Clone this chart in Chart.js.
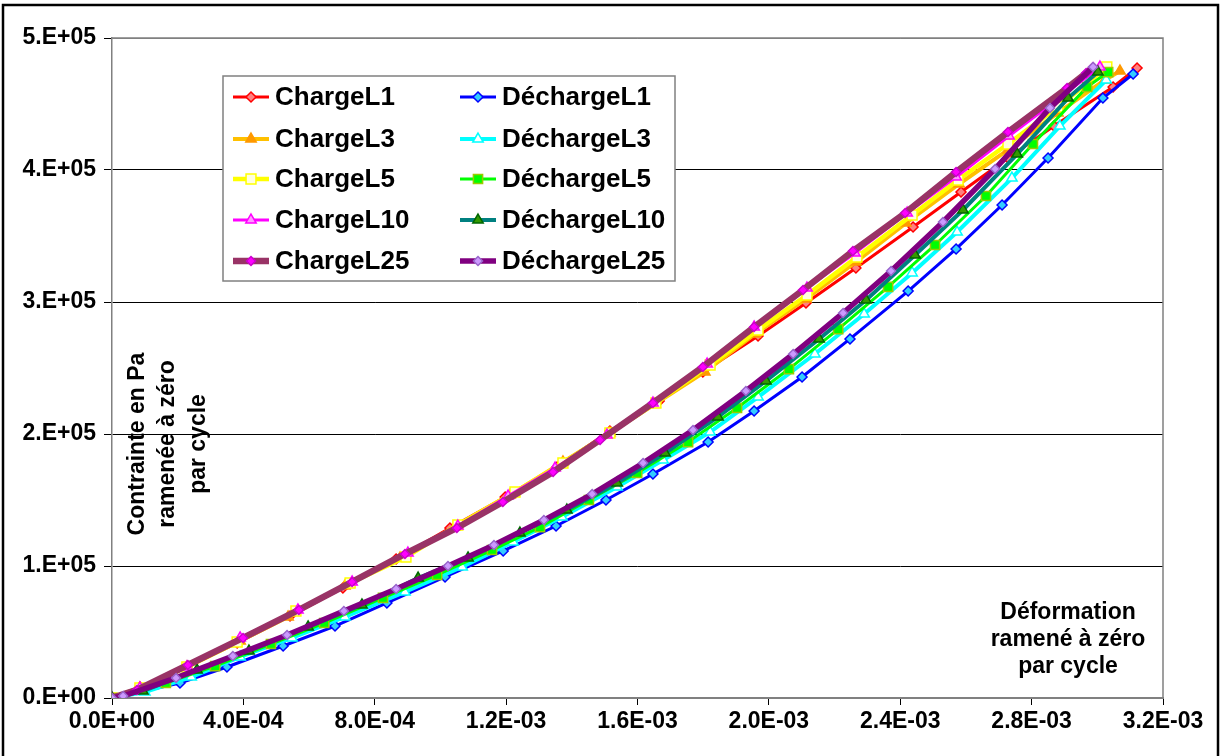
<!DOCTYPE html>
<html><head><meta charset="utf-8">
<script src="https://cdn.jsdelivr.net/npm/chart.js@4.4.1/dist/chart.umd.min.js"></script>
<style>html,body{margin:0;padding:0;background:#fff;overflow:hidden}#wrap{width:1221px;height:756px}</style>
</head><body><div id="wrap"><canvas id="c" width="1221" height="756"></canvas></div>
<script>
// Strain values in units of 1e-4, stress values in kPa (1e3 Pa)
const xTickValues = [0, 4e-4, 8e-4, 1.2e-3, 1.6e-3, 2.0e-3, 2.4e-3, 2.8e-3, 3.2e-3];
const xTickLabels = ['0.0E+00','4.0E-04','8.0E-04','1.2E-03','1.6E-03','2.0E-03','2.4E-03','2.8E-03','3.2E-03'];
const yTickValues = [0, 1e5, 2e5, 3e5, 4e5, 5e5];
const yTickLabels = ['0.E+00','1.E+05','2.E+05','3.E+05','4.E+05','5.E+05'];

const cL1x = [0,0.85,2.28,3.81,5.42,7.03,8.65,10.29,11.97,13.55,15.16,16.66,17.99,19.67,21.13,22.65,24.39,25.85,27.28,28.68,30.48,31.21];
const cL1y = [0,8.3,23.5,41.7,62.1,83.3,105.3,128.8,152.3,175.0,202.3,225.0,247.0,274.2,299.2,325.8,356.8,383.3,409.1,433.3,462.9,477.3];
const cL3x = [0,0.85,2.28,3.90,5.36,7.09,8.77,10.44,12.12,13.73,15.16,16.53,18.05,19.58,21.13,22.65,24.17,25.79,27.28,28.80,30.23,30.69];
const cL3y = [0,7.6,23.5,43.2,61.4,84.8,106.1,129.5,153.8,178.8,200.8,222.7,247.0,275.8,302.3,330.3,359.8,389.4,415.2,443.2,468.2,475.0];
const cL5x = [0,0.85,2.28,3.81,5.60,7.25,8.95,10.53,12.27,13.73,15.16,16.56,18.21,19.67,21.16,22.68,24.36,25.76,27.28,28.80,30.29];
const cL5y = [0,7.6,23.5,42.4,65.9,87.1,106.8,131.1,156.1,178.0,200.8,223.5,252.3,278.8,305.3,334.1,365.9,392.4,419.7,447.7,478.0];
const cL10x = [0,0.85,2.28,3.90,5.66,7.31,9.01,10.53,12.06,13.49,15.07,16.47,18.12,19.55,21.16,22.62,24.21,25.70,27.31,28.92,30.08];
const cL10y = [0,7.6,23.5,45.5,66.7,87.9,109.8,130.3,153.0,174.2,199.2,223.5,253.0,281.1,310.6,337.1,367.4,394.7,425.8,456.1,478.0];
const cL25x = [0,0.76,2.31,3.99,5.69,7.31,8.92,10.50,11.90,13.43,14.86,16.47,17.99,19.55,21.04,22.56,24.15,25.70,27.28,29.08,29.66,29.87];
const cL25y = [0,6.1,25.0,45.5,66.7,87.9,109.1,128.8,148.5,171.2,195.5,223.5,250.8,281.1,309.1,338.6,367.4,398.5,428.8,462.1,473.5,478.0];

const dL1x = [31.09,30.17,28.50,27.10,25.70,24.24,22.47,21.01,19.55,18.15,16.47,15.04,13.52,11.91,10.14,8.37,6.79,5.21,3.50,2.07,0];
const dL1y = [472.7,454.5,409.1,373.5,340.2,308.3,272.0,243.2,217.4,193.9,169.7,150.0,130.3,111.4,91.7,72.0,54.5,39.4,23.5,11.4,0];
const dL3x = [30.27,28.86,27.40,25.73,24.36,22.90,21.40,19.67,18.21,16.78,15.38,13.70,12.21,10.66,8.92,7.09,5.48,3.90,2.41,1.00,0];
const dL3y = [468.2,433.3,393.9,353.0,322.0,290.9,260.6,228.0,201.5,180.3,159.8,137.1,118.2,99.2,80.3,61.4,45.5,31.1,15.9,4.5,0];
const dL5x = [30.33,29.69,28.04,26.61,25.06,23.63,22.11,20.61,19.03,17.54,15.99,14.52,13.03,11.57,9.90,8.25,6.46,4.84,3.14,1.64,0];
const dL5y = [474.2,462.9,419.7,380.3,343.2,311.4,279.5,249.2,219.7,193.9,170.5,150.0,129.5,112.1,93.2,75.8,56.8,40.9,24.2,11.4,0];
const dL10x = [30.02,29.11,27.56,25.91,24.45,22.96,21.53,19.91,18.45,16.84,15.38,13.85,12.42,10.84,9.32,7.61,5.97,4.17,2.59,0.94,0];
const dL10y = [474.2,454.5,412.1,369.7,335.6,301.5,272.0,240.2,212.9,185.6,162.9,142.4,125.0,106.1,90.9,70.5,53.8,35.6,21.2,5.3,0];
const dL25x = [29.87,28.56,26.89,25.30,23.72,22.26,20.74,19.30,17.69,16.17,14.62,13.15,11.63,10.23,8.65,7.06,5.33,3.68,1.95,0.34,0];
const dL25y = [478.0,447.0,400.8,360.6,323.5,291.7,260.6,232.6,203.0,178.0,154.5,134.8,115.9,100.0,82.6,65.9,47.7,31.8,15.2,1.5,0];

const seriesNames = ['ChargeL1','DéchargeL1','ChargeL3','DéchargeL3','ChargeL5','DéchargeL5','ChargeL10','DéchargeL10','ChargeL25','DéchargeL25'];

const X_UNIT = 1e-4, Y_UNIT = 1e3;
function pts(xs, ys){ return xs.map((v,i)=>({x: v*X_UNIT, y: ys[i]*Y_UNIT})); }

const FONT = '"Liberation Sans", Arial, Helvetica, sans-serif';

const styles = [
  {line:'#FF0000', w:3,   ps:'rectRot',  r:5,   fill:'#FF8080', bc:'#FF0000'},
  {line:'#0000FF', w:3,   ps:'rectRot',  r:5,   fill:'#33CCFF', bc:'#0000FF'},
  {line:'#FFC000', w:4,   ps:'triangle', r:6,   fill:'#FF9900', bc:'#FF9900'},
  {line:'#00FFFF', w:4,   ps:'triangle', r:6,   fill:'#FFFFFF', bc:'#00FFFF'},
  {line:'#FFFF00', w:4.5, ps:'rect',     r:7,   fill:'#FFFFE0', bc:'#FFFF00'},
  {line:'#00FF00', w:3,   ps:'rect',     r:6.5, fill:'#00FF00', bc:'#99CC00'},
  {line:'#FF00FF', w:3,   ps:'triangle', r:6,   fill:'#FF99FF', bc:'#FF00FF'},
  {line:'#008080', w:4,   ps:'triangle', r:6,   fill:'#339900', bc:'#006600'},
  {line:'#993366', w:6.5, ps:'rectRot',  r:4.5, fill:'#FF00FF', bc:'#CC00CC'},
  {line:'#800080', w:5.5, ps:'rectRot',  r:4.5, fill:'#CC99FF', bc:'#9966CC'}
];
const dataSets = [pts(cL1x,cL1y), pts(dL1x,dL1y), pts(cL3x,cL3y), pts(dL3x,dL3y), pts(cL5x,cL5y),
                  pts(dL5x,dL5y), pts(cL10x,cL10y), pts(dL10x,dL10y), pts(cL25x,cL25y), pts(dL25x,dL25y)];

const datasets = dataSets.map((d,i)=>({
  label: seriesNames[i], data: d, showLine: true,
  borderColor: styles[i].line, borderWidth: styles[i].w,
  backgroundColor: styles[i].fill,
  pointStyle: styles[i].ps, pointRadius: styles[i].r,
  pointBackgroundColor: styles[i].fill, pointBorderColor: styles[i].bc, pointBorderWidth: 1.5,
  tension: 0, order: 20 - i
}));

function drawMarker(ctx, st, x, y){
  const r = st.r;
  ctx.beginPath();
  if (st.ps === 'rectRot'){ ctx.moveTo(x, y-r); ctx.lineTo(x+r, y); ctx.lineTo(x, y+r); ctx.lineTo(x-r, y); ctx.closePath(); }
  else if (st.ps === 'triangle'){ ctx.moveTo(x, y-r); ctx.lineTo(x+r*0.866, y+r*0.5); ctx.lineTo(x-r*0.866, y+r*0.5); ctx.closePath(); }
  else { const h = r*0.7071; ctx.rect(x-h, y-h, 2*h, 2*h); }
  ctx.fillStyle = st.fill; ctx.fill();
  ctx.lineWidth = 1.5; ctx.strokeStyle = st.bc; ctx.stroke();
}

const decor = {
  id: 'decor',
  beforeDatasetsDraw(chart){
    const ctx = chart.ctx, a = chart.chartArea;
    ctx.save();
    ctx.strokeStyle = '#808080'; ctx.lineWidth = 1.5;
    ctx.beginPath(); ctx.moveTo(a.left, a.top); ctx.lineTo(a.right, a.top); ctx.lineTo(a.right, a.bottom); ctx.stroke();
    ctx.restore();
  },
  afterDraw(chart){
    const ctx = chart.ctx;
    ctx.save();
    // outer frame
    ctx.strokeStyle = '#000'; ctx.lineWidth = 2.5;
    ctx.strokeRect(3, 5, 1215, 800);
    // legend
    const bx = 223, by = 76, bw = 452, bh = 205;
    ctx.fillStyle = '#fff'; ctx.fillRect(bx, by, bw, bh);
    ctx.strokeStyle = '#808080'; ctx.lineWidth = 1.5; ctx.strokeRect(bx, by, bw, bh);
    const rows = [97, 139, 179, 220, 261];
    const cols = [{l:233, r:269, t:275}, {l:460, r:496, t:502}];
    ctx.font = 'bold 26px ' + FONT; ctx.textBaseline = 'middle'; ctx.textAlign = 'left';
    seriesNames.forEach((name, i) => {
      const c = cols[i % 2], y = rows[Math.floor(i/2)], st = styles[i];
      ctx.strokeStyle = st.line; ctx.lineWidth = st.w;
      ctx.beginPath(); ctx.moveTo(c.l, y); ctx.lineTo(c.r, y); ctx.stroke();
      drawMarker(ctx, st, (c.l + c.r)/2, y);
      ctx.fillStyle = '#000'; ctx.fillText(name, c.t, y + 1);
    });
    // y axis title
    ctx.font = 'bold 23px ' + FONT; ctx.textAlign = 'center'; ctx.fillStyle = '#000';
    ctx.save(); ctx.translate(168, 444); ctx.rotate(-Math.PI/2);
    ['Contrainte en Pa', 'ramenée à zéro', 'par cycle'].forEach((t, k) => ctx.fillText(t, 0, (k-1)*30.5));
    ctx.restore();
    // x axis title
    ['Déformation', 'ramené à zéro', 'par cycle'].forEach((t, k) => ctx.fillText(t, 1068, 613 + k*27));
    ctx.restore();
  }
};

new Chart(document.getElementById('c'), {
  type: 'scatter',
  data: { datasets },
  plugins: [decor],
  options: {
    responsive: false, animation: false, devicePixelRatio: 1,
    layout: { padding: { left: 0, right: 58, top: 38, bottom: 0 } },
    plugins: { legend: { display: false }, tooltip: { enabled: false } },
    scales: {
      x: {
        type: 'linear', min: 0, max: 3.2e-3,
        afterBuildTicks: s => { s.ticks = xTickValues.map(v => ({ value: v })); },
        afterFit: s => { s.height = 58; },
        ticks: { callback: (v, i) => xTickLabels[i], font: { family: FONT, size: 23, weight: 'bold' }, color: '#000', padding: 3, maxRotation: 0, autoSkip: false },
        grid: { drawOnChartArea: false, drawTicks: true, tickLength: 7, tickColor: '#000' },
        border: { color: '#808080', width: 1.5 }
      },
      y: {
        type: 'linear', min: 0, max: 5e5,
        afterBuildTicks: s => { s.ticks = yTickValues.map(v => ({ value: v })); },
        afterFit: s => { s.width = 112; },
        ticks: { callback: (v, i) => yTickLabels[i], font: { family: FONT, size: 23, weight: 'bold' }, color: '#000', padding: 8, autoSkip: false },
        grid: { color: c => (c.index === 0 || c.index === 5) ? '#808080' : '#000', lineWidth: 1, tickLength: 8, tickColor: '#000' },
        border: { color: '#808080', width: 1.5 }
      }
    }
  }
});
</script></body></html>
